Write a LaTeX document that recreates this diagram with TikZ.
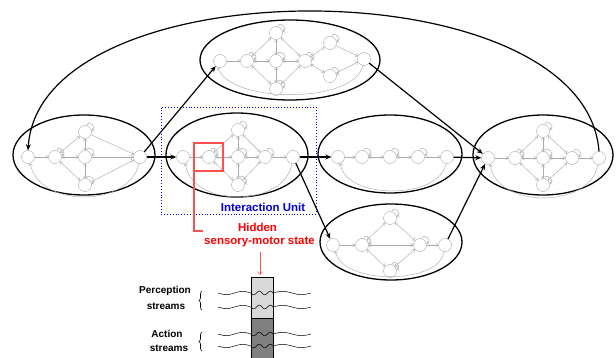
\documentclass[tikz,border=0pt]{standalone}
\usepackage{fontspec}
\setmainfont{Liberation Sans}
\usetikzlibrary{arrows.meta,decorations.pathreplacing,shapes.geometric}
\definecolor{lred}{RGB}{255,80,80}
\newcommand\mywave[1]{%
 \draw[wv] plot[domain=218:251,samples=25,smooth] (\x,{#1+1.6*sin((\x-218)*10.9)});
 \draw[wv] plot[domain=251:273,samples=40,smooth] (\x,{#1+1.8*sin((\x-251)*32.7)});
 \draw[wv] plot[domain=273:311,samples=25,smooth] (\x,{#1-1.6*sin((\x-273)*9.47)});
}
\begin{document}
\begin{tikzpicture}[x=1pt,y=-1pt,
 st/.style={circle,draw=gray!70,line width=0.4pt,fill=white,minimum size=13pt,inner sep=0pt},
 ge/.style={draw=gray!65,line width=0.45pt,-{Straight Barb[length=2.2pt,width=3.6pt]}},
 gb/.style={ge,{Straight Barb[length=2.2pt,width=3.6pt]}-{Straight Barb[length=2.2pt,width=3.6pt]}},
 lp/.style={ge,out=75,in=15,distance=7pt},
 ell/.style={ellipse,draw=black,line width=1.3pt,inner sep=0pt},
 big/.style={draw=black,line width=1.2pt,-{Stealth[length=6pt,width=5pt]}},
 wv/.style={draw=black,line width=0.5pt},
 lbl/.style={font=\bfseries\fontsize{11.5}{13}\selectfont,inner sep=0pt},
 slbl/.style={font=\bfseries\fontsize{10}{12}\selectfont,inner sep=0pt}]

\useasboundingbox (0,0) rectangle (616,358);

% outer ellipses
\node[ell,minimum width=142pt,minimum height=80pt] (E1) at (84,155) {};
\node[ell,minimum width=142pt,minimum height=84pt] (E2) at (237,155) {};
\node[ell,minimum width=180pt,minimum height=80pt] (E3) at (290,60) {};
\node[ell,minimum width=144pt,minimum height=78pt] (E4) at (390,154) {};
\node[ell,minimum width=142pt,minimum height=76pt] (E5) at (391,242) {};
\node[ell,minimum width=140pt,minimum height=80pt] (E6) at (543,155) {};

% ---- E1 ----
\node[st] (a1) at (28,157) {};
\node[st] (a2) at (55,157) {};
\node[st] (a3) at (85,132) {};
\node[st] (a4) at (85,157) {};
\node[st] (a5) at (85,185) {};
\node[st] (a6) at (140,157) {};
\draw[ge] (a6.-100) .. controls (130,208) and (38,208) .. (a1.-70);
\draw[ge] (a1) -- (a2);
\draw[gb] (a2) -- (a3); \draw[gb] (a2) -- (a4); \draw[gb] (a2) -- (a5);
\draw[gb] (a3) -- (a4); \draw[gb] (a4) -- (a5);
\draw[ge] (a3) -- (a6); \draw[ge] (a4) -- (a6); \draw[ge] (a5) -- (a6);
\foreach \n in {a2,a3,a4,a5} \draw[lp] (\n) to (\n);

% ---- E2 ----
\node[st] (b1) at (183,157) {};
\node[st] (b2) at (209,157) {};
\node[st] (b3) at (238,130) {};
\node[st] (b4) at (238,157) {};
\node[st] (b5) at (238,185) {};
\node[st] (b6) at (265,157) {};
\node[st] (b7) at (293,157) {};
\draw[ge] (b7.-100) .. controls (285,208) and (191,208) .. (b1.-70);
\draw[ge] (b1) -- (b2);
\draw[gb] (b2) -- (b3); \draw[gb] (b2) -- (b4); \draw[gb] (b2) -- (b5);
\draw[gb] (b3) -- (b4); \draw[gb] (b4) -- (b5);
\draw[gb] (b3) -- (b6); \draw[gb] (b4) -- (b6); \draw[gb] (b5) -- (b6);
\draw[ge] (b6) -- (b7);
\foreach \n in {b2,b3,b4,b5,b6} \draw[lp] (\n) to (\n);

% ---- E3 ----
\node[st] (c1) at (220,61) {};
\node[st] (c2) at (247,61) {};
\node[st] (c3) at (276,33) {};
\node[st] (c4) at (276,61) {};
\node[st] (c5) at (276,89) {};
\node[st] (c6) at (305,61) {};
\node[st] (c7) at (330,43) {};
\node[st] (c8) at (330,76) {};
\node[st] (c9) at (364,59) {};
\draw[ge] (c9.-100) .. controls (355,104) and (230,104) .. (c1.-110);
\draw[ge] (c1) -- (c2);
\draw[gb] (c2) -- (c3); \draw[gb] (c2) -- (c4); \draw[gb] (c2) -- (c5);
\draw[gb] (c3) -- (c4); \draw[gb] (c4) -- (c5);
\draw[gb] (c3) -- (c6); \draw[gb] (c4) -- (c6); \draw[gb] (c5) -- (c6);
\draw[gb] (c6) -- (c7); \draw[gb] (c6) -- (c8);
\draw[ge] (c7) -- (c9); \draw[ge] (c8) -- (c9);
\foreach \n in {c2,c3,c4,c5,c6,c7,c8} \draw[lp] (\n) to (\n);

% ---- E4 ----
\node[st] (d1) at (338,157) {};
\node[st] (d2) at (362,157) {};
\node[st] (d3) at (390,157) {};
\node[st] (d4) at (418,157) {};
\node[st] (d5) at (447,157) {};
\draw[ge] (d5.-100) .. controls (440,200) and (345,200) .. (d1.-70);
\draw[ge] (d1) -- (d2);
\draw[gb] (d2) -- (d3); \draw[gb] (d3) -- (d4);
\draw[ge] (d4) -- (d5);
\foreach \n in {d2,d3,d4} \draw[lp] (\n) to (\n);

% ---- E5 ----
\node[st] (e1) at (333,245) {};
\node[st] (e2) at (362,245) {};
\node[st] (e3) at (390,218) {};
\node[st] (e4) at (390,271) {};
\node[st] (e5) at (420,245) {};
\node[st] (e6) at (445,245) {};
\draw[ge] (e6.-100) .. controls (440,285) and (342,285) .. (e1.-70);
\draw[ge] (e1) -- (e2);
\draw[gb] (e2) -- (e3); \draw[gb] (e2) -- (e5); \draw[gb] (e2) -- (e4);
\draw[gb] (e3) -- (e5); \draw[gb] (e4) -- (e5);
\draw[ge] (e5) -- (e6);
\foreach \n in {e2,e3,e4,e5} \draw[lp] (\n) to (\n);

% ---- E6 ----
\node[st] (f1) at (488,158) {};
\node[st] (f2) at (515,158) {};
\node[st] (f3) at (543,131) {};
\node[st] (f4) at (543,158) {};
\node[st] (f5) at (543,185) {};
\node[st] (f6) at (572,158) {};
\node[st] (f7) at (599,158) {};
\draw[ge] (f7.-100) .. controls (591,209) and (496,209) .. (f1.-70);
\draw[ge] (f1) -- (f2);
\draw[gb] (f2) -- (f3); \draw[gb] (f2) -- (f4); \draw[gb] (f2) -- (f5);
\draw[gb] (f3) -- (f4); \draw[gb] (f4) -- (f5);
\draw[gb] (f3) -- (f6); \draw[gb] (f4) -- (f6); \draw[gb] (f5) -- (f6);
\draw[ge] (f6) -- (f7);
\foreach \n in {f2,f3,f4,f5,f6} \draw[lp] (\n) to (\n);

% ---- black connectors ----
\draw[big] (a6) -- (b1);
\draw[big] (a6) -- (c1);
\draw[big] (b7) -- (d1);
\draw[big] (b7) -- (e1);
\draw[big] (c9) -- (f1);
\draw[big] (d5) -- (f1);
\draw[big] (e6) -- (f1);
\draw[big] (f7.north) .. controls (585,-35) and (40,-35) .. (a1.north);

% ---- interaction unit ----
\node[draw=blue,dotted,line width=0.9pt,minimum width=155pt,minimum height=107pt,inner sep=0pt] (IU) at (238.5,160.5) {};
\node[lbl,text=blue!85!black] (IUt) at (263,207) {Interaction Unit};

\coordinate (HSa) at (194,143);
\coordinate (HSb) at (223,171);
\coordinate (HL) at (203,231);
\draw[draw=lred,line width=1.1pt] (HSa) rectangle (HSb);
\draw[draw=lred,line width=1.1pt] (HSa |- HSb) |- (HL);
\node[lbl,text=red] (H1) at (257.5,227) {Hidden};
\node[lbl,text=red] (H2) at (259.5,242) {sensory-motor state};
\coordinate (BT) at (260,275);
\draw[lred,line width=0.6pt,-{Straight Barb[length=3pt,width=5pt]}] (260,252) -- (BT);

% ---- bar and streams ----
\fill[black!15] (251,278) rectangle (273,318);
\fill[black!50] (251,318) rectangle (273,360);
\mywave{293}
\mywave{307}
\mywave{334}
\mywave{346}
\draw[line width=1pt] (251,360) -- (251,278) -- (273,278) -- (273,360);
\draw[line width=0.8pt] (251,318) -- (273,318);

\node[slbl] (P1) at (165,291) {Perception};
\node[slbl] (P2) at (166,306) {streams};
\node[slbl] (A1) at (167,334) {Action};
\node[slbl] (A2) at (169,348) {streams};
\draw[decorate,decoration={brace,amplitude=3pt},line width=0.6pt] (202,310) -- (202,291);
\draw[decorate,decoration={brace,amplitude=3pt},line width=0.6pt] (202,351) -- (202,332);
\end{tikzpicture}
\end{document}
